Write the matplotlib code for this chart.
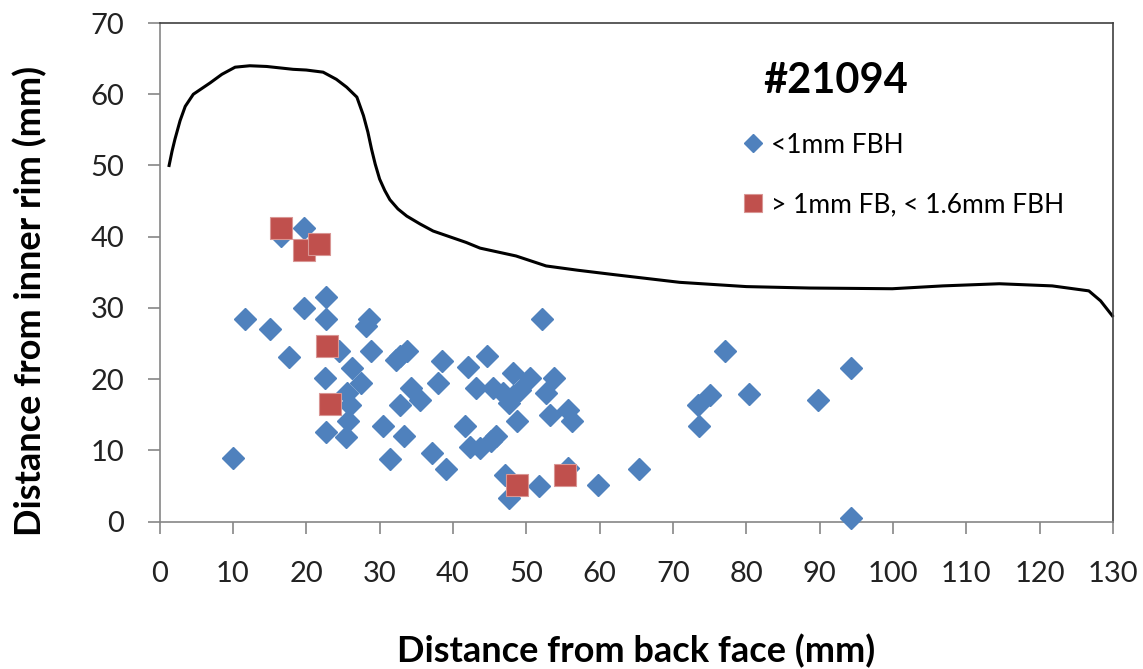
import numpy as np
import matplotlib
matplotlib.use("Agg")
import matplotlib.pyplot as plt

plt.rcParams['font.family'] = ['Lato', 'DejaVu Sans']

# outline of the part (profile curve)
profile_x = [1.3, 1.7, 2.1, 2.8, 3.5, 4.6, 6.9, 8.5, 10.3, 12.3, 14.6, 18.2, 20.0, 22.3,
             24.1, 25.5, 26.9, 27.8, 28.4, 28.9, 29.4, 30.0, 30.7, 31.4, 32.5, 33.7,
             35.5, 37.3, 41.8, 43.7, 48.6, 52.7, 57.0, 61.8, 70.9, 80.0, 88.6, 99.9,
             106.8, 114.5, 121.7, 126.7, 128.3, 129.9]
profile_y = [50.0, 52.0, 53.7, 56.3, 58.3, 60.0, 61.6, 62.8, 63.8, 64.0, 63.9, 63.5, 63.4,
             63.1, 62.1, 61.0, 59.6, 57.0, 54.7, 52.3, 50.2, 48.1, 46.5, 45.2, 43.9, 42.9,
             41.8, 40.8, 39.2, 38.4, 37.3, 35.9, 35.3, 34.7, 33.6, 33.0, 32.8, 32.7,
             33.1, 33.4, 33.1, 32.4, 31.0, 28.9]

# <1mm FBH indications
small_x = [10.0, 11.6, 15.1, 16.6, 17.7, 19.7, 19.7, 22.7, 22.7, 22.6, 22.7, 24.5,
           25.4, 25.7, 25.9, 25.5, 26.2, 27.4, 28.6, 28.2, 28.8, 30.4, 31.4, 32.3,
           32.8, 33.7, 32.8, 33.3, 34.3, 35.5, 37.1, 38.0, 38.5, 39.0, 41.6, 42.1,
           42.3, 43.2, 43.7, 44.6, 45.2, 45.9, 45.5, 46.8, 47.1, 47.7, 48.2, 48.2,
           49.1, 48.7, 47.7, 50.5, 51.7, 52.2, 52.7, 53.2, 53.8, 55.7, 56.2, 55.7,
           59.8, 65.4, 73.5, 73.4, 75.0, 77.1, 80.3, 89.8, 94.3, 94.3]
small_y = [8.9, 28.5, 27.0, 40.1, 23.1, 41.2, 30.0, 31.5, 28.5, 20.2, 12.6, 23.9,
           11.9, 14.1, 16.4, 18.1, 21.6, 19.5, 28.5, 27.5, 23.9, 13.4, 8.8, 22.7,
           23.2, 24.0, 16.4, 12.0, 18.8, 17.1, 9.6, 19.5, 22.5, 7.4, 13.4, 21.7,
           10.5, 18.8, 10.3, 23.2, 11.3, 12.0, 18.8, 18.1, 6.6, 16.7, 20.9, 17.6,
           18.5, 14.1, 3.3, 20.2, 5.0, 28.5, 18.1, 15.0, 20.2, 15.7, 14.1, 7.5,
           5.1, 7.4, 13.4, 16.4, 17.8, 23.9, 17.9, 17.1, 21.6, 0.5]

# >1mm FB, <1.6mm FBH indications
large_x = [16.6, 19.7, 21.8, 22.8, 23.2, 48.7, 55.3]
large_y = [41.2, 38.2, 39.0, 24.7, 16.5, 5.2, 6.6]

fig = plt.figure(figsize=(11.43, 6.69), dpi=100)
ax = fig.add_axes([0.1396, 0.2202, 0.8342, 0.7454])

ax.plot(profile_x, profile_y, color='black', lw=2.2, zorder=2, clip_on=False,
        solid_joinstyle='round')
ax.plot(small_x, small_y, 'D', color='#4F81BD', ms=11, mec='#4F81BD', ls='none',
        label='<1mm FBH', zorder=3, clip_on=False)
ax.plot(large_x, large_y, 's', color='#C0504D', ms=15.8, mec='#D99694', mew=0.8, ls='none',
        label='> 1mm FB, < 1.6mm FBH', zorder=4, clip_on=False)

ax.set_xlim(0, 130)
ax.set_ylim(0, 70)
ax.set_xticks(np.arange(0, 131, 10))
ax.set_yticks(np.arange(0, 71, 10))

for s in ['left', 'bottom']:
    ax.spines[s].set_color('#868686')
    ax.spines[s].set_linewidth(1.2)
for s in ['top', 'right']:
    ax.spines[s].set_color('#404040')
    ax.spines[s].set_linewidth(1.2)

ax.tick_params(axis='both', direction='out', length=8.5, width=1.2, color='#868686',
               labelsize=21, labelcolor='#222222')
ax.tick_params(axis='y', pad=17)
ax.tick_params(axis='x', pad=20)

ax.set_xlabel('Distance from back face (mm)', fontsize=26, fontweight='bold', va='center')
ax.set_ylabel('Distance from inner rim (mm)', fontsize=26, fontweight='bold', va='center')
ax.xaxis.set_label_coords(0.5, -0.259)
ax.yaxis.set_label_coords(-0.1358, 0.4425)

ax.text(0.7095, 0.884, '#21094', transform=ax.transAxes, fontsize=30,
        fontweight='bold', ha='center', va='center')

ax.legend(loc='upper left', bbox_to_anchor=(0.611, 0.78), frameon=False, fontsize=19,
          numpoints=1, handlelength=0.8, handletextpad=0.3, labelspacing=1.3,
          borderpad=0, borderaxespad=0, markerscale=0.85)

fig.savefig('out.png', dpi=100)
